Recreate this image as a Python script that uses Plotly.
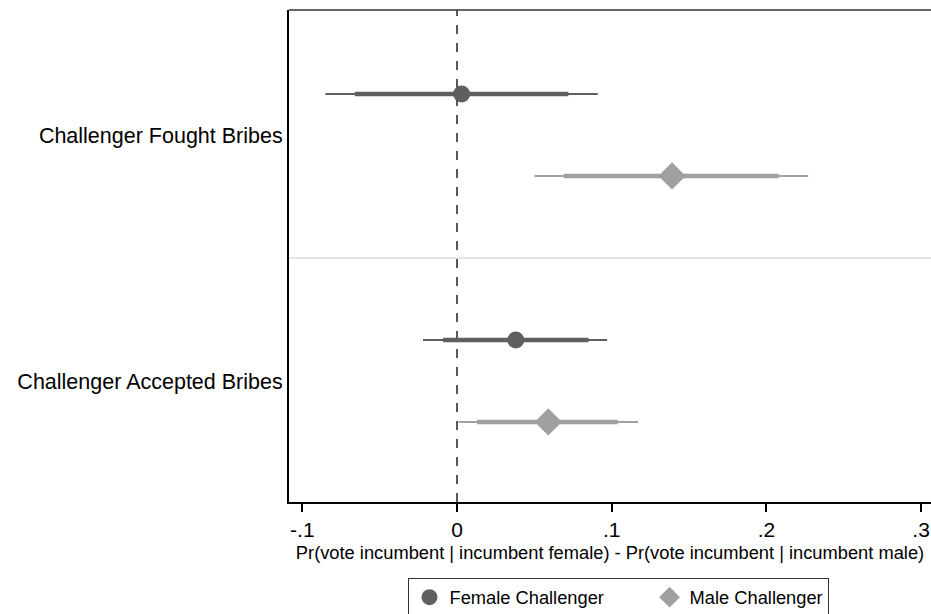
import plotly.graph_objects as go

categories = ["Challenger Fought Bribes", "Challenger Accepted Bribes"]
series = ["Female Challenger", "Male Challenger"]

# estimates per category for each series
female_est = [0.003, 0.038]
female_lo95 = [-0.085, -0.022]
female_hi95 = [0.091, 0.097]
female_lo90 = [-0.066, -0.009]
female_hi90 = [0.072, 0.085]

male_est = [0.139, 0.059]
male_lo95 = [0.050, 0.001]
male_hi95 = [0.227, 0.117]
male_lo90 = [0.069, 0.013]
male_hi90 = [0.208, 0.104]

x_tickvals = [-0.1, 0, 0.1, 0.2, 0.3]
x_ticktext = ["-.1", "0", ".1", ".2", ".3"]

FONT = "Liberation Sans, Arial, sans-serif"
colors = ["#5f5f5f", "#a0a0a0"]
symbols = ["circle", "diamond"]
sizes = [17, 21]
offsets = [1 / 6, -1 / 6]
legend_pad = ["\u00a0" * 8, ""]

cat_pos = [len(categories) - 1 - i for i in range(len(categories))]

fig = go.Figure()

data = [
    (female_est, female_lo95, female_hi95, female_lo90, female_hi90),
    (male_est, male_lo95, male_hi95, male_lo90, male_hi90),
]

for s, (est, lo95, hi95, lo90, hi90) in enumerate(data):
    ys = [p + offsets[s] for p in cat_pos]
    # thin 95% CI
    xx, yy = [], []
    for i in range(len(categories)):
        xx += [lo95[i], hi95[i], None]
        yy += [ys[i], ys[i], None]
    fig.add_trace(go.Scatter(x=xx, y=yy, mode="lines", line=dict(color=colors[s], width=2),
                             showlegend=False, hoverinfo="skip"))
    # thick 90% CI
    xx, yy = [], []
    for i in range(len(categories)):
        xx += [lo90[i], hi90[i], None]
        yy += [ys[i], ys[i], None]
    fig.add_trace(go.Scatter(x=xx, y=yy, mode="lines", line=dict(color=colors[s], width=4.5),
                             showlegend=False, hoverinfo="skip"))
    fig.add_trace(go.Scatter(x=est, y=ys, mode="markers", name=series[s] + legend_pad[s],
                             marker=dict(color=colors[s], symbol=symbols[s], size=sizes[s],
                                         line=dict(width=0))))

fig.add_shape(type="line", xref="x", yref="paper", x0=0, x1=0, y0=0, y1=1,
              line=dict(color="#222222", width=1.5, dash="dash"), layer="below")
fig.add_shape(type="line", xref="paper", yref="y", x0=0, x1=1, y0=0.5, y1=0.5,
              line=dict(color="#e4e4e4", width=2), layer="below")
fig.add_shape(type="line", xref="paper", yref="paper", x0=0, x1=1, y0=1, y1=1,
              line=dict(color="#333333", width=1.5))

fig.update_layout(
    width=931, height=614,
    margin=dict(l=289, r=0, t=10, b=112, autoexpand=False),
    paper_bgcolor="white", plot_bgcolor="white",
    font=dict(family=FONT, color="black"),
    xaxis=dict(range=[-0.1086, 0.3064], tickvals=x_tickvals, ticktext=x_ticktext,
               ticks="outside", ticklen=8, tickwidth=1.5, tickcolor="black",
               tickfont=dict(size=21), showgrid=False, zeroline=False, automargin=False,
               showline=True, linecolor="black", linewidth=2,
               title=dict(text="Pr(vote incumbent | incumbent female) - Pr(vote incumbent | incumbent male)",
                          font=dict(size=18.3), standoff=6)),
    yaxis=dict(range=[-0.492, 1.508], tickvals=cat_pos, ticktext=categories,
               ticks="", tickfont=dict(size=21.5), showgrid=False, zeroline=False,
               automargin=False, showline=True, linecolor="black", linewidth=2),
    legend=dict(orientation="h", x=0.514, xanchor="center", y=-0.154, yanchor="top",
                bordercolor="#333333", borderwidth=1, font=dict(size=18.3),
                itemwidth=30, tracegroupgap=0),
)

fig.write_html(
    "out.html",
    config={"displayModeBar": False},
    post_script="document.body.style.margin='0';"
                "document.body.style.overflow='hidden';"
                "document.documentElement.style.overflow='hidden';",
)
